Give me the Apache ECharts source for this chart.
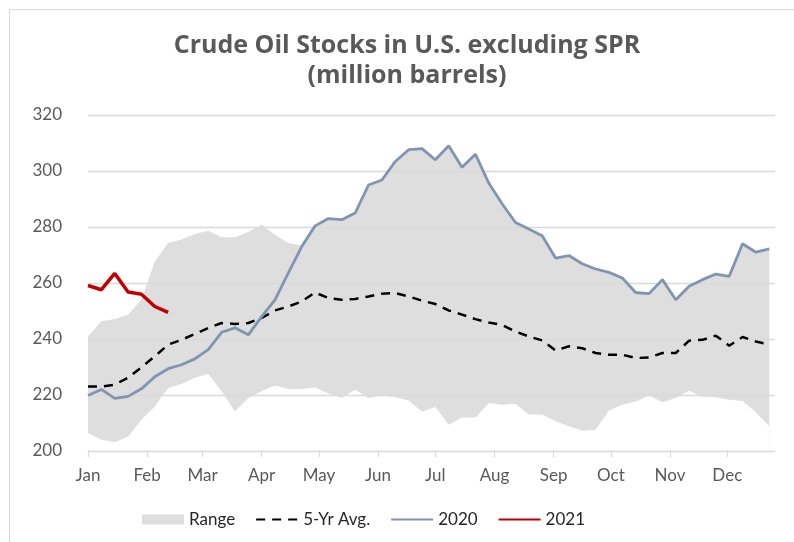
<!DOCTYPE html>
<html style="height: 100%">

<head>
  <meta charset="utf-8">
  <script src="https://cdn.jsdelivr.net/npm/echarts@6/dist/echarts.min.js"></script>
</head>

<body style="height: 100%; margin: 0; background: #fff">
  <div id="main" style="width: 794px; height: 542px"></div>

  <script type="text/javascript">
    // weekly values, million barrels
    var monthLabels = ['Jan', 'Feb', 'Mar', 'Apr', 'May', 'Jun', 'Jul', 'Aug', 'Sep', 'Oct', 'Nov', 'Dec'];
    var monthStartDays = [0, 31, 60, 91, 121, 152, 182, 213, 244, 274, 305, 335];

    var y2020 = [219.8, 222, 218.8, 219.5, 222.2, 226.5, 229.4, 230.8, 232.9, 236.2, 242.4, 244, 241.5,
      248, 254, 263.6, 273, 280.4, 283, 282.6, 285, 295, 296.8, 303.4, 307.6, 308,
      304, 309, 301.3, 306, 295.7, 288.3, 281.6, 279.3, 276.9, 268.9, 269.8, 266.9, 265,
      263.8, 261.8, 256.6, 256.2, 261.2, 254, 258.8, 261.2, 263.2, 262.4, 274, 271, 272.2];

    var y2021 = [259.1, 257.6, 263.4, 256.8, 256, 251.6, 249.5];

    var avg5 = [223, 223, 223.7, 226.2, 229.9, 233.8, 238, 239.7, 241.8, 243.9, 245.7, 245.4, 245.7,
      247.5, 250.2, 251.6, 253.4, 256.6, 254.6, 254, 254.3, 255.2, 256.2, 256.4, 255.2, 253.7,
      252.5, 250.2, 248.7, 247.1, 245.9, 245, 242.7, 240.9, 239.5, 235.9, 237.4, 236.7, 235,
      234.4, 234.4, 233.2, 233.4, 235, 235, 239.4, 239.7, 241.2, 237.6, 240.7, 239.1, 238];

    var rangeLow = [206.4, 204, 203.1, 205.2, 211.2, 215.9, 222.5, 223.9, 226.2, 227.6, 221.3, 214.1, 218.9,
      221.3, 223.4, 222.1, 222.1, 222.7, 220.5, 218.9, 221.9, 218.9, 219.8, 219.2, 218, 214,
      215.7, 209.4, 212, 212, 217.1, 216.5, 216.9, 213, 213, 210.6, 208.8, 207.2, 207.6,
      214.5, 216.5, 217.7, 219.8, 217.4, 218.9, 221.5, 219.5, 219.2, 218.3, 217.9, 213.8, 208.8];

    var rangeHigh = [240.9, 246.3, 247.1, 248.7, 254, 267.7, 274.3, 275.5, 277.5, 278.7, 276.3, 276.3, 278.2,
      280.8, 277.2, 274.3, 273.4, 280.4, 283, 282.6, 285, 295, 296.8, 303.4, 307.6, 308,
      304, 309, 301.3, 306, 295.7, 288.3, 281.6, 279.3, 276.9, 268.9, 269.8, 266.9, 265,
      263.8, 261.8, 256.6, 256.2, 261.2, 254, 258.8, 261.2, 263.2, 262.4, 274, 271, 272.2];

    var yTicks = [200, 220, 240, 260, 280, 300, 320];

    // day of year for each weekly point
    function pairs(arr) {
      return arr.map(function (v, i) { return [i * 7, v]; });
    }

    var myChart = echarts.init(document.getElementById('main'));
    var font = 'Lato, "Open Sans", sans-serif';
    var hideSymbol = { color: 'rgba(0,0,0,0)', borderColor: 'rgba(0,0,0,0)', borderWidth: 0, opacity: 0 };

    var option = {
      animation: false,
      backgroundColor: '#fff',
      textStyle: { fontFamily: font },
      title: {
        text: 'Crude Oil Stocks in U.S. excluding SPR\n(million barrels)',
        left: 402,
        top: 26,
        textAlign: 'center',
        textStyle: { fontSize: 25, fontWeight: 'bold', color: '#595959', lineHeight: 30, fontFamily: '"Open Sans", sans-serif' }
      },
      graphic: [{
        type: 'rect',
        shape: { x: 9.5, y: 9.5, width: 790, height: 540 },
        style: { fill: 'none', stroke: '#d9d9d9', lineWidth: 1 },
        silent: true
      }],
      legend: {
        left: 137,
        top: 506,
        itemGap: 20,
        itemWidth: 42,
        itemHeight: 10,
        textStyle: { fontSize: 17, color: '#262626', fontFamily: font },
        data: [
          { name: 'Range', icon: 'rect', itemStyle: { color: '#dedede' } },
          { name: '5-Yr Avg.', itemStyle: hideSymbol },
          { name: '2020', itemStyle: hideSymbol },
          { name: '2021', itemStyle: hideSymbol }
        ]
      },
      grid: { left: 88, right: 19, top: 115, bottom: 91 },
      xAxis: {
        type: 'value',
        min: 0,
        max: 360,
        z: 3,
        splitLine: { show: false },
        axisLine: { show: true, lineStyle: { color: '#d9d9d9', width: 1 } },
        axisTick: {
          show: true, length: 6, inside: false,
          customValues: monthStartDays,
          lineStyle: { color: '#d9d9d9' }
        },
        axisLabel: {
          customValues: monthStartDays,
          margin: 16,
          fontSize: 17,
          color: '#595959',
          formatter: function (v) { return monthLabels[monthStartDays.indexOf(v)]; }
        }
      },
      yAxis: {
        type: 'value',
        min: yTicks[0],
        max: yTicks[yTicks.length - 1],
        interval: 20,
        z: 3,
        axisLine: { show: false },
        axisTick: { show: false },
        axisLabel: { fontSize: 17, color: '#595959', margin: 26 },
        splitLine: { lineStyle: { color: '#d9d9d9', width: 1.3 } }
      },
      series: [
        {
          name: 'Range',
          type: 'line',
          data: pairs(rangeHigh),
          symbol: 'none',
          lineStyle: { width: 0 },
          itemStyle: { color: '#dedede' },
          areaStyle: { color: '#dedede', opacity: 1, origin: 'start' },
          z: 1
        },
        {
          name: 'rangeLow',
          type: 'line',
          data: pairs(rangeLow),
          symbol: 'none',
          lineStyle: { width: 0 },
          areaStyle: { color: '#fff', opacity: 1, origin: 'start' },
          z: 2,
          silent: true
        },
        {
          name: '5-Yr Avg.',
          type: 'line',
          data: pairs(avg5),
          symbol: 'none',
          itemStyle: { color: '#000' },
          lineStyle: { color: '#000', width: 2.5, type: [9, 7] },
          z: 5
        },
        {
          name: '2020',
          type: 'line',
          data: pairs(y2020),
          symbol: 'none',
          itemStyle: { color: '#7f95b1' },
          lineStyle: { color: '#7f95b1', width: 2.8 },
          z: 6
        },
        {
          name: '2021',
          type: 'line',
          data: pairs(y2021),
          symbol: 'none',
          itemStyle: { color: '#c00000' },
          lineStyle: { color: '#c00000', width: 3.5 },
          z: 7
        }
      ]
    };
    myChart.setOption(option, true);
  </script>
</body>

</html>
